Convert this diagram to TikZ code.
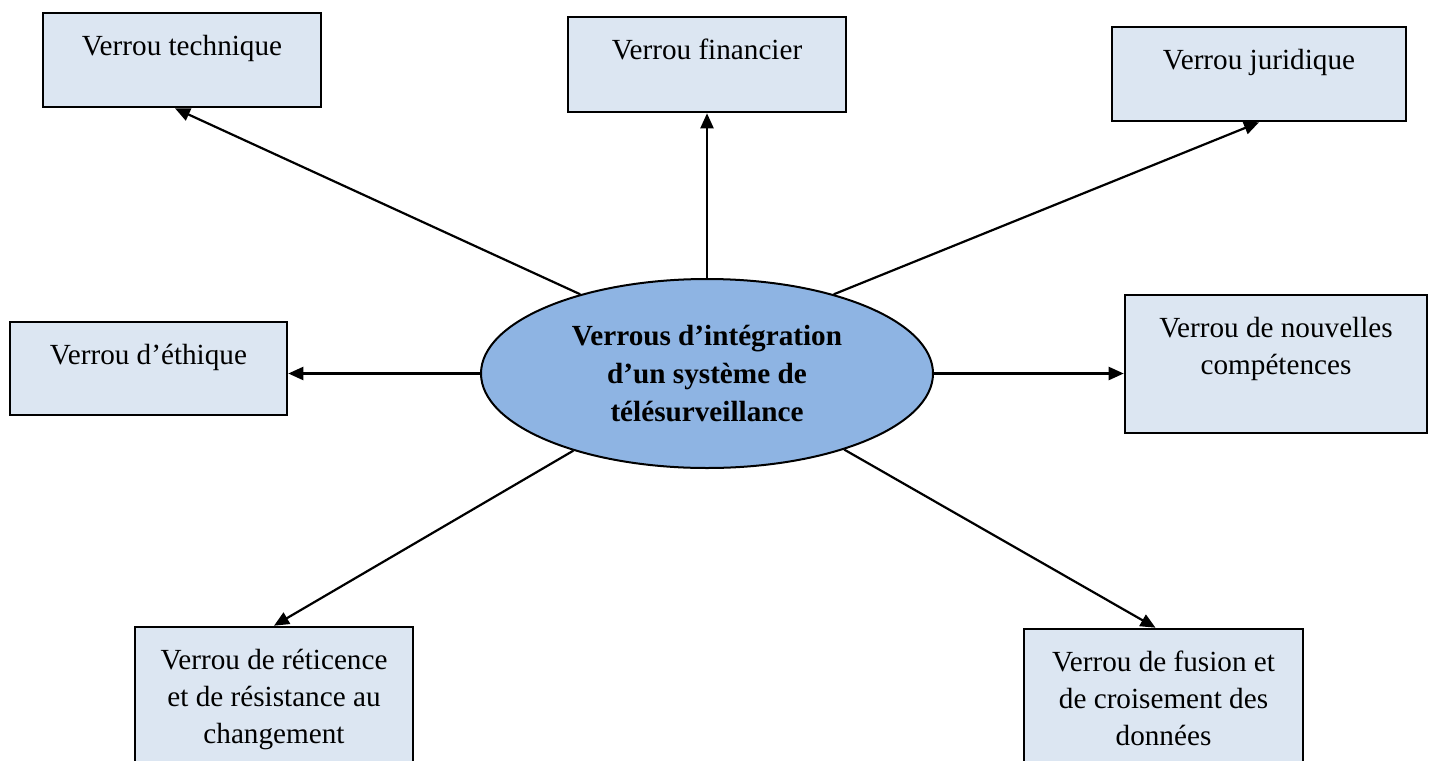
\documentclass[tikz,border=0pt]{standalone}
\usepackage{fontspec}
\setmainfont{Liberation Serif}
\usetikzlibrary{shapes.geometric,arrows.meta}
\definecolor{boxfill}{HTML}{DCE6F2}
\definecolor{ellfill}{HTML}{8EB4E3}
\newcommand\vbx[3]{\parbox[c][#2][t]{#1}{\centering\rule{0pt}{21pt}#3}}
\tikzset{
  vbox/.style={draw=black, line width=1.3pt, fill=boxfill, rectangle, inner sep=0pt,
    font=\fontsize{14.6}{18.5}\selectfont},
  centre/.style={draw=black, line width=1pt, fill=ellfill, ellipse, inner sep=0pt,
    minimum width=226pt, minimum height=94.5pt, align=center,
    font=\fontsize{14.6}{19}\selectfont\bfseries},
  arr/.style={line width=1.1pt, -{Triangle[length=7.5pt,width=6.5pt]}}
}
\begin{document}
\begin{tikzpicture}[x=0.5pt,y=-0.5pt]
\useasboundingbox (0,0) rectangle (1433,760);
\clip (0,0) rectangle (1433,760);
\node[vbox] (tech) at (182,60) {\vbx{139pt}{47pt}{Verrou technique}};
\node[vbox] (fin) at (707,64.5) {\vbx{139pt}{47.5pt}{Verrou financier}};
\node[vbox] (jur) at (1259,74) {\vbx{147pt}{47pt}{Verrou juridique}};
\node[vbox] (eth) at (148.5,368.5) {\vbx{138.5pt}{46.5pt}{Verrou d’éthique}};
\node[vbox] (comp) at (1276,364) {\vbx{151pt}{69pt}{Verrou de nouvelles\\compétences}};
\node[vbox] (ret) at (274,713.5) {\vbx{139pt}{86.5pt}{Verrou de réticence\\et de résistance au\\changement}};
\node[vbox] (fus) at (1163.5,714.5) {\vbx{139.5pt}{85.5pt}{Verrou de fusion et\\de croisement des\\données}};
\node[centre] (c) at (707,373.5) {Verrous d’intégration\\d’un système de\\télésurveillance};
\draw[arr] (c.148) -- ([xshift=-3.5pt]tech.south);
\draw[arr] (c.north) -- (c.north |- fin.south);
\draw[arr] (c.32) -- (jur.south);
\draw[arr] (c.west) -- (c.west -| eth.east);
\draw[arr] (c.east) -- (c.east -| comp.west);
\draw[arr] (c.210) -- (ret.north);
\draw[arr] (c.331) -- ([xshift=-4pt]fus.north);
\end{tikzpicture}
\end{document}
